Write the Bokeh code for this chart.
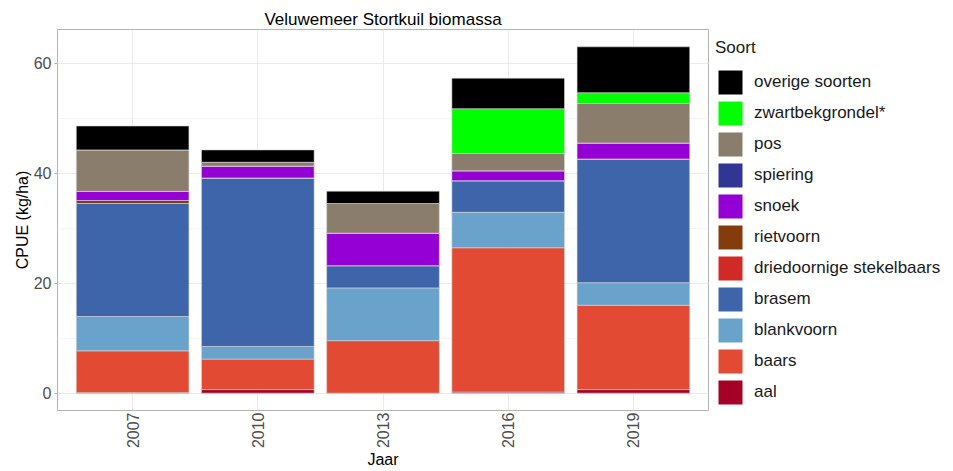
import math
from bokeh.plotting import figure
from bokeh.layouts import row
from bokeh.models import (FactorRange, Legend, LegendItem, SingleIntervalTicker, ColumnDataSource,
                          Range1d)
from bokeh.embed import file_html
from bokeh.resources import INLINE

years = ["2007", "2010", "2013", "2016", "2019"]

aal = [0.1, 0.65, 0.0, 0.2, 0.65]
baars = [7.6, 5.55, 9.55, 26.25, 15.35]
blankvoorn = [6.25, 2.3, 9.6, 6.45, 4.1]
brasem = [20.55, 30.65, 4.05, 5.75, 22.5]
driedoornige_stekelbaars = [0.0, 0.0, 0.0, 0.0, 0.0]
rietvoorn = [0.55, 0.0, 0.0, 0.0, 0.0]
snoek = [1.65, 2.15, 5.9, 1.8, 2.9]
spiering = [0.0, 0.0, 0.0, 0.0, 0.0]
pos = [7.55, 0.7, 5.4, 3.15, 7.2]
zwartbekgrondel = [0.0, 0.0, 0.0, 8.15, 1.95]
overige_soorten = [4.35, 2.25, 2.25, 5.55, 8.35]

labels = ["aal", "baars", "blankvoorn", "brasem", "driedoornige stekelbaars", "rietvoorn",
          "snoek", "spiering", "pos", "zwartbekgrondel*", "overige soorten"]
colors = ["#a50026", "#e34a33", "#69a2ca", "#3e64aa", "#d12a26", "#843c0c",
          "#9400d3", "#313695", "#8b7d6b", "#00ff00", "#000000"]
series = [aal, baars, blankvoorn, brasem, driedoornige_stekelbaars, rietvoorn,
          snoek, spiering, pos, zwartbekgrondel, overige_soorten]

keys = ["s%d" % i for i in range(len(series))]
data = {"year": years}
for k, s in zip(keys, series):
    data[k] = s
src = ColumnDataSource(data)

FONT = "Liberation Sans"

# main chart
p = figure(width=715, height=471, output_backend="svg", toolbar_location=None,
           x_range=FactorRange(*years, range_padding=0.1, range_padding_units="absolute"),
           y_range=Range1d(-3.15, 66.15),
           min_border_left=57, min_border_right=7, min_border_top=29, min_border_bottom=55)

p.vbar_stack(keys, x="year", width=0.9, source=src, fill_color=colors,
             line_color="#d9d9d9", line_width=0.6)

p.title.text = "Veluwemeer Stortkuil biomassa"
p.title.align = "center"
p.title.text_font = FONT
p.title.text_font_size = "17px"
p.title.text_font_style = "normal"
p.title.text_color = "#000000"
p.title.standoff = 2

p.yaxis.ticker = SingleIntervalTicker(interval=20, num_minor_ticks=2)
p.yaxis.axis_label = "CPUE (kg/ha)"
p.xaxis.axis_label = "Jaar"
for ax in (p.xaxis, p.yaxis):
    ax.axis_line_color = None
    ax.major_tick_line_color = "#b3b3b3"
    ax.major_tick_out = 3
    ax.major_tick_in = 0
    ax.minor_tick_line_color = None
    ax.major_label_text_font = FONT
    ax.major_label_text_font_size = "16px"
    ax.major_label_text_color = "#4d4d4d"
    ax.axis_label_text_font = FONT
    ax.axis_label_text_font_size = "16px"
    ax.axis_label_text_font_style = "normal"
    ax.axis_label_text_color = "#000000"
    ax.major_label_standoff = 2
    ax.axis_label_standoff = 0
p.xaxis.major_label_orientation = math.pi / 2
p.xaxis.major_tick_out = 0
p.xaxis.major_label_standoff = 2

p.xgrid.grid_line_color = "#ebebeb"
p.ygrid.grid_line_color = "#ebebeb"
p.ygrid.minor_grid_line_color = "#f5f5f5"
p.outline_line_color = "#b3b3b3"
p.outline_line_width = 1

# legend panel: its bars have zero width and lie outside the visible range;
# only the legend keys show
lg = figure(width=238, height=471, output_backend="svg", toolbar_location=None,
            x_range=FactorRange(*years), y_range=Range1d(-200, -100),
            x_axis_location=None, y_axis_location=None,
            min_border_left=0, min_border_right=0, min_border_top=0, min_border_bottom=0)
lg.outline_line_color = None
lg.xgrid.visible = False
lg.ygrid.visible = False
lrs = lg.vbar_stack(keys, x="year", width=0.0, source=src, fill_color=colors,
                    line_color=None)
items = [LegendItem(label=lab, renderers=[r]) for lab, r in zip(labels, lrs)][::-1]
legend = Legend(items=items, title="Soort", location=(0, 3),
                glyph_width=30, glyph_height=30, label_height=30, spacing=1,
                label_text_font=FONT, label_text_font_size="17px", label_text_color="#1a1a1a",
                title_text_font=FONT, title_text_font_size="17px", title_text_color="#1a1a1a",
                title_text_font_style="normal", title_standoff=9,
                border_line_color=None, background_fill_alpha=0,
                margin=0, padding=0, label_standoff=9)
lg.add_layout(legend, "center")

layout = row(p, lg)
open("out.html", "w").write(file_html(layout, INLINE))
